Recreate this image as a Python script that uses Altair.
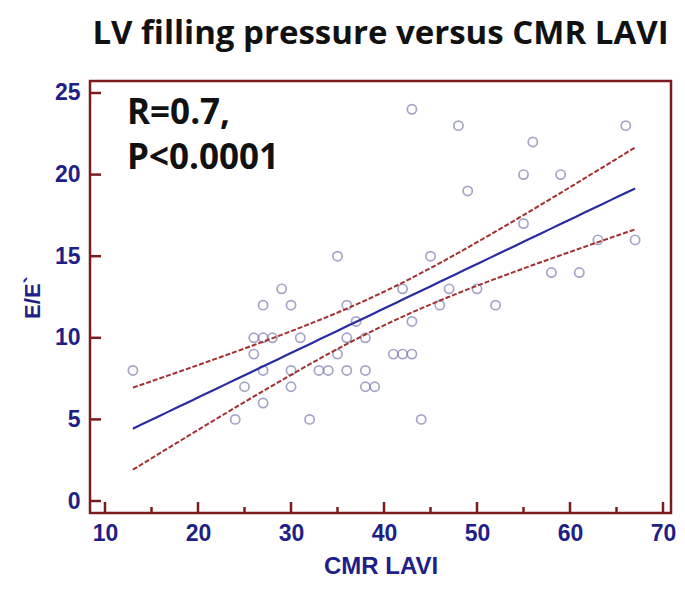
import altair as alt
import numpy as np
import pandas as pd

# Data
cmr_lavi = [13, 24, 25, 26, 26, 27, 27, 27, 27, 28, 29, 30, 30, 30, 31, 32, 33, 34, 35, 35,
            36, 36, 36, 37, 38, 38, 38, 39, 41, 42, 42, 43, 43, 43, 44, 45, 46, 47, 48, 49,
            50, 52, 55, 55, 56, 58, 59, 61, 63, 66, 67]
e_over_e = [8, 5, 7, 9, 10, 10, 12, 8, 6, 10, 13, 12, 8, 7, 10, 5, 8, 8, 15, 9,
            12, 10, 8, 11, 8, 7, 10, 7, 9, 9, 13, 24, 11, 9, 5, 15, 12, 13, 23, 19,
            13, 12, 20, 17, 22, 14, 20, 14, 16, 23, 16]

x_major_ticks = [10, 20, 30, 40, 50, 60, 70]
x_minor_ticks = [15, 25, 35, 45, 55, 65]
y_major_ticks = [0, 5, 10, 15, 20, 25]

title_text = "LV filling pressure versus CMR LAVI"
annotation_lines = ["R=0.7,", "P<0.0001"]

# Linear regression with 95% confidence band of the mean, computed from the points
x = np.array(cmr_lavi, dtype=float)
y = np.array(e_over_e, dtype=float)
n = len(x)
slope, intercept = np.polyfit(x, y, 1)
resid = y - (slope * x + intercept)
s = np.sqrt(np.sum(resid ** 2) / (n - 2))
xm = x.mean()
sxx = np.sum((x - xm) ** 2)
t_crit = 2.01
xs = np.linspace(x.min(), x.max(), 60)
fit = slope * xs + intercept
se = s * np.sqrt(1.0 / n + (xs - xm) ** 2 / sxx)
band = pd.DataFrame({"x": xs, "fit": fit, "lo": fit - t_crit * se, "hi": fit + t_crit * se})

pts = pd.DataFrame({"cmr": cmr_lavi, "ee": e_over_e})

FRAME = "#7b1c1c"
BLUE = "#1f1f87"
W, H = 581, 432

xscale = alt.Scale(domain=[8.387, 70.86], nice=False, zero=False)
yscale = alt.Scale(domain=[-0.735, 25.735], nice=False, zero=False)

x_axis = alt.Axis(values=x_major_ticks, ticks=False, domain=False, grid=False,
                  labelFont="Liberation Sans", labelFontSize=23, labelFontWeight="bold",
                  labelColor=BLUE, labelPadding=9, labelFlush=False,
                  title="CMR LAVI", titleFont="Liberation Sans", titleFontSize=24,
                  titleFontWeight="bold", titleColor=BLUE, titlePadding=9)
y_axis = alt.Axis(values=y_major_ticks, ticks=False, domain=False, grid=False,
                  labelFont="Liberation Sans", labelFontSize=23, labelFontWeight="bold",
                  labelColor=BLUE, labelPadding=10, labelFlush=False,
                  title="E/E`", titleFont="Liberation Sans", titleFontSize=22,
                  titleFontWeight="bold", titleColor=BLUE, titlePadding=10)

points = alt.Chart(pts).mark_point(shape="circle", filled=False, size=85, strokeWidth=1.7,
                                   color="#7f7fb2").encode(
    x=alt.X("cmr:Q", scale=xscale, axis=x_axis),
    y=alt.Y("ee:Q", scale=yscale, axis=y_axis),
)

fit_line = alt.Chart(band).mark_line(color="#2b2ba0", strokeWidth=2.2).encode(
    x=alt.X("x:Q", scale=xscale, axis=x_axis), y=alt.Y("fit:Q", scale=yscale, axis=y_axis))
hi_line = alt.Chart(band).mark_line(color="#a33030", strokeWidth=2, strokeDash=[5, 2]).encode(
    x=alt.X("x:Q", scale=xscale, axis=x_axis), y=alt.Y("hi:Q", scale=yscale, axis=y_axis))
lo_line = alt.Chart(band).mark_line(color="#a33030", strokeWidth=2, strokeDash=[5, 2]).encode(
    x=alt.X("x:Q", scale=xscale, axis=x_axis), y=alt.Y("lo:Q", scale=yscale, axis=y_axis))

# inward-pointing ticks placed through the scales
xmaj = alt.Chart(pd.DataFrame({"t": x_major_ticks})).mark_rule(color=FRAME, strokeWidth=2.5).encode(
    x=alt.X("t:Q", scale=xscale, axis=x_axis), y=alt.value(H), y2=alt.value(H - 11))
xmin = alt.Chart(pd.DataFrame({"t": x_minor_ticks})).mark_rule(color=FRAME, strokeWidth=2.5).encode(
    x=alt.X("t:Q", scale=xscale, axis=x_axis), y=alt.value(H), y2=alt.value(H - 6))
ymaj = alt.Chart(pd.DataFrame({"t": y_major_ticks})).mark_rule(color=FRAME, strokeWidth=2.5).encode(
    y=alt.Y("t:Q", scale=yscale, axis=y_axis), x=alt.value(0), x2=alt.value(11))

annot = alt.Chart(pd.DataFrame({"t": ["\n".join(annotation_lines)]})).mark_text(
    align="left", baseline="alphabetic", font="Open Sans", fontSize=35, fontWeight="bold",
    color="#111111", lineBreak="\n", lineHeight=45,
).encode(x=alt.value(37), y=alt.value(43), text="t:N")

chart = alt.layer(points, fit_line, hi_line, lo_line, xmaj, xmin, ymaj, annot).properties(
    width=W, height=H,
    background="white",
    title=alt.TitleParams(title_text, font="Open Sans", fontSize=33, fontWeight="bold",
                          color="#111111", anchor="middle", offset=30),
    autosize=alt.AutoSizeParams(type="none"),
    padding={"left": 82, "top": 73, "right": 6, "bottom": 69},
).configure_view(stroke=FRAME, strokeWidth=2.5)

chart.save("out.html", embed_options={"renderer": "svg", "actions": False})
